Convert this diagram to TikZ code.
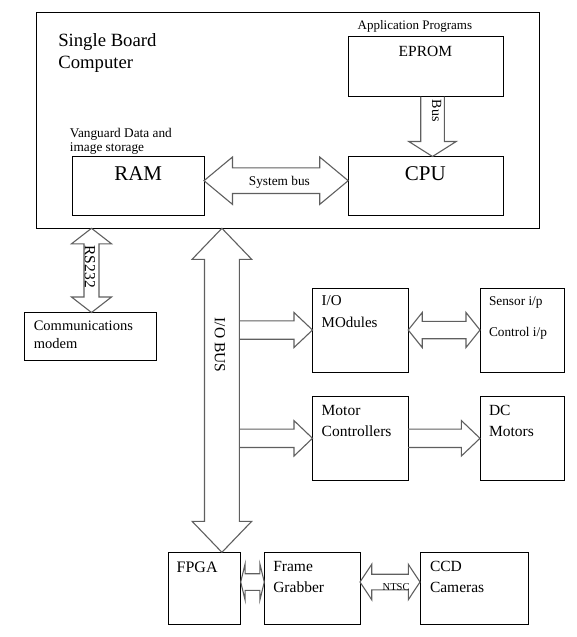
\documentclass[tikz,border=0pt]{standalone}
\usepackage{fontspec}
\setmainfont{Liberation Serif}
\usetikzlibrary{calc}
\definecolor{agray}{RGB}{95,95,95}
\newcommand\fs[1]{\fontsize{#1}{#1}\selectfont}
\newcommand\bx[5]{\node[box, minimum width={#4-#2}, minimum height={#5-#3}] (#1) at ({(#2+#4)/2},{(#3+#5)/2}) {};}
% horizontal double arrow: #1 left, #2 right, #3 y, #4 shaft half, #5 head half, #6 head length
\newcommand\hdbl[6]{\draw[blk] let \p1=(#1), \p2=(#2), \p3=(0,#3) in
 (\x1,\y3) -- (\x1+#6pt,\y3+#5pt) -- (\x1+#6pt,\y3+#4pt) -- (\x2-#6pt,\y3+#4pt) -- (\x2-#6pt,\y3+#5pt) -- (\x2,\y3) -- (\x2-#6pt,\y3-#5pt) -- (\x2-#6pt,\y3-#4pt) -- (\x1+#6pt,\y3-#4pt) -- (\x1+#6pt,\y3-#5pt) -- cycle;}
% vertical double arrow: #1 top, #2 bottom, #3 x
\newcommand\vdbl[6]{\draw[blk] let \p1=(#1), \p2=(#2), \p3=(#3,0) in
 (\x3,\y1) -- (\x3+#5pt,\y1-#6pt) -- (\x3+#4pt,\y1-#6pt) -- (\x3+#4pt,\y2+#6pt) -- (\x3+#5pt,\y2+#6pt) -- (\x3,\y2) -- (\x3-#5pt,\y2+#6pt) -- (\x3-#4pt,\y2+#6pt) -- (\x3-#4pt,\y1-#6pt) -- (\x3-#5pt,\y1-#6pt) -- cycle;}
% horizontal single arrow to the right, open tail
\newcommand\hsgl[6]{\draw[blk] let \p1=(#1), \p2=(#2), \p3=(0,#3) in
 (\x1,\y3+#4pt) -- (\x2-#6pt,\y3+#4pt) -- (\x2-#6pt,\y3+#5pt) -- (\x2,\y3) -- (\x2-#6pt,\y3-#5pt) -- (\x2-#6pt,\y3-#4pt) -- (\x1,\y3-#4pt);}
% vertical single arrow downward, open tail
\newcommand\vsgl[6]{\draw[blk] let \p1=(#1), \p2=(#2), \p3=(#3,0) in
 (\x3-#4pt,\y1) -- (\x3-#4pt,\y2+#6pt) -- (\x3-#5pt,\y2+#6pt) -- (\x3,\y2) -- (\x3+#5pt,\y2+#6pt) -- (\x3+#4pt,\y2+#6pt) -- (\x3+#4pt,\y1);}
\tikzset{
 box/.style={draw=black, line width=0.8pt, inner sep=0pt, outer sep=0pt},
 blk/.style={draw=agray, line width=1.1pt, line join=miter},
 lbl/.style={inner sep=0pt, outer sep=0pt, anchor=base west, text=black},
 clbl/.style={inner sep=0pt, outer sep=0pt, anchor=base, text=black},
 rlbl/.style={inner sep=0pt, outer sep=0pt, anchor=center, rotate=-90, text=black}
}
\begin{document}
\begin{tikzpicture}[x=1pt,y=-1pt]
\useasboundingbox (0,0) rectangle (577,637);
% boxes
\bx{sbc}{36.8}{12.7}{539.7}{228.3}
\bx{eprom}{348.2}{36.7}{503.7}{96.7}
\bx{cpu}{348.2}{156.5}{503.7}{215}
\bx{ram}{72.4}{156.5}{204}{215}
\bx{modem}{24.3}{312.5}{156.3}{360}
\bx{iom}{312.5}{288.3}{408.2}{372.3}
\bx{sensor}{480}{288.3}{564}{372.3}
\bx{motor}{312.5}{396.7}{408.2}{480}
\bx{dc}{480}{396.7}{564}{480}
\bx{fpga}{168.3}{552.3}{240.7}{624.3}
\bx{frame}{264.3}{552.3}{360}{624.3}
\bx{ccd}{420}{552.3}{528.3}{624.3}
\coordinate (busedge) at (239.3,0);
% block arrows
\vsgl{eprom.south}{cpu.north}{432.5}{11.8}{23.7}{15}
\hdbl{ram.east}{cpu.west}{180.7}{12.8}{23.7}{28.5}
\vdbl{sbc.south}{modem.north}{91.5}{7.5}{20}{15.5}
\vdbl{sbc.south}{fpga.north}{221.9}{17.4}{29.8}{31}
\hsgl{busedge}{iom.west}{330}{9.2}{17.5}{18.5}
\hsgl{busedge}{motor.west}{438.3}{9.2}{17.7}{18.5}
\hdbl{iom.east}{sensor.west}{330}{8.7}{17.5}{14}
\hsgl{motor.east}{dc.west}{438.3}{9.2}{17.7}{18.6}
\hdbl{fpga.east}{frame.west}{582}{8.3}{18}{4.4}
\hdbl{frame.east}{ccd.west}{582}{7.8}{17.7}{11.7}
% texts
\node[lbl, font=\fs{18.7}] (t1) at (58.3,46) {Single Board};
\node[lbl, font=\fs{18.7}] (t2) at (58.3,68.3) {Computer};
\node[lbl, font=\fs{13}] (t3) at (357.7,29.3) {Application Programs};
\node[clbl, font=\fs{15.5}] (t4) at (425.4,56.7) {EPROM};
\node[lbl, font=\fs{13.3}] (t5) at (69.9,137.3) {Vanguard Data and};
\node[lbl, font=\fs{13.3}] (t6) at (69.9,151.5) {image storage};
\node[clbl, font=\fs{21}] (t7) at (138.2,180) {RAM};
\node[clbl, font=\fs{21}] (t8) at (425.4,180) {CPU};
\node[clbl, font=\fs{13.3}] (t9) at (279.4,185) {System bus};
\node[rlbl, font=\fs{14}] (t10) at (436.7,110.8) {Bus};
\node[rlbl, font=\fs{15.5}] (t11) at (90,266.7) {RS232};
\node[lbl, font=\fs{14.5}] (t12) at (33.8,330) {Communications};
\node[lbl, font=\fs{14.5}] (t13) at (33.8,348.3) {modem};
\node[rlbl, font=\fs{15.5}] (t14) at (219.9,345) {I/O BUS};
\node[lbl, font=\fs{15}] (t15) at (321.7,305.3) {I/O};
\node[lbl, font=\fs{15}] (t16) at (321.7,327.3) {MOdules};
\node[lbl, font=\fs{13.3}] (t17) at (489,305) {Sensor i/p};
\node[lbl, font=\fs{13.3}] (t18) at (489,336.7) {Control i/p};
\node[lbl, font=\fs{15.5}] (t19) at (321.7,415.7) {Motor};
\node[lbl, font=\fs{15.5}] (t20) at (321.7,436) {Controllers};
\node[lbl, font=\fs{15.5}] (t21) at (489,415.7) {DC};
\node[lbl, font=\fs{15.5}] (t22) at (489,436) {Motors};
\node[lbl, font=\fs{16}] (t23) at (176.7,572.7) {FPGA};
\node[lbl, font=\fs{15.5}] (t24) at (273.3,571.7) {Frame};
\node[lbl, font=\fs{15.5}] (t25) at (273.3,592.3) {Grabber};
\node[lbl, font=\fs{15.5}] (t26) at (430,571.7) {CCD};
\node[lbl, font=\fs{15.5}] (t27) at (430,592.3) {Cameras};
\node[lbl, font=\fs{10.5}] (t28) at (382.7,590) {NTSC};
\end{tikzpicture}
\end{document}
